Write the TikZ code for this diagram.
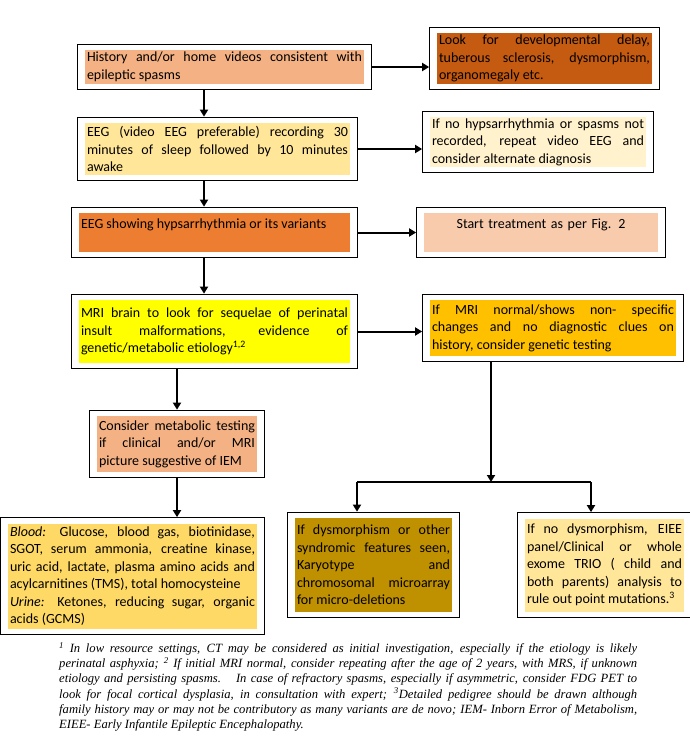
\documentclass[tikz,border=0pt]{standalone}
\usepackage{fontspec}
\setmainfont{Carlito}
\newfontfamily\notefont{Liberation Serif}
\usetikzlibrary{shapes,arrows,arrows.meta,fit}

\definecolor{peach}{HTML}{F4B183}
\definecolor{rust}{HTML}{C55A11}
\definecolor{sand}{HTML}{FFE699}
\definecolor{cream}{HTML}{FFF2CC}
\definecolor{tangerine}{HTML}{ED7D31}
\definecolor{blush}{HTML}{F8CBAD}
\definecolor{lemon}{HTML}{FFFF00}
\definecolor{amber}{HTML}{FFC000}
\definecolor{honey}{HTML}{FFD966}
\definecolor{ochre}{HTML}{BF9000}

\hyphenpenalty=10000
\exhyphenpenalty=10000
\tolerance=10000

\begin{document}
\begin{tikzpicture}[x=1pt, y=-1pt, node distance=90pt, >={Triangle[length=7pt,width=8pt]}]
			\tikzset{
				fillbox/.style={rectangle, inner xsep=2pt, inner ysep=0pt, align=justify, font=\fontsize{14}{17.5}\selectfont},
				frame/.style={rectangle, draw=black, line width=1.3pt, inner xsep=7pt, inner ysep=5.5pt},
				arrow/.style={line width=2pt, ->},
				notes/.style={anchor=north west, inner sep=0pt, text width=578pt, align=justify, font=\notefont\itshape\fontsize{12.6}{15.3}\selectfont},
			}
			\useasboundingbox (0,0) rectangle (690,748);
			\node[fillbox, fill=peach, text width=275pt, minimum height=34pt] (hist) at (224.5,67) {History and/or home videos consistent with\linebreak epileptic spasms};
			\node[fillbox, fill=rust, text width=211pt, minimum height=51pt, right of=hist, xshift=230pt, yshift=8.5pt] (look) {Look for developmental delay,\linebreak tuberous sclerosis, dysmorphism,\linebreak organomegaly etc.};
			\node[fillbox, fill=sand, text width=261pt, minimum height=52pt, below of=hist, xshift=-7pt, yshift=8pt] (eeg) {EEG (video EEG preferable) recording 30\linebreak minutes of sleep followed by 10 minutes\linebreak awake};
			\node[fillbox, fill=cream, text width=212pt, minimum height=50pt, right of=eeg, xshift=230.5pt, yshift=7pt] (nohyps) {If no hypsarrhythmia or spasms not\linebreak recorded, repeat video EEG and\linebreak consider alternate diagnosis};
			\node[fillbox, fill=tangerine, text width=267pt, minimum height=39pt, below of=eeg, xshift=-3pt, yshift=6.5pt] (hyps) {EEG showing hypsarrhythmia or its variants\\ \mbox{}};
			\node[fillbox, fill=blush, align=center, text width=230pt, minimum height=39pt, right of=hyps, xshift=236.5pt] (treat) {Start treatment as per Fig. 2\\ \mbox{}};
			\node[fillbox, fill=lemon, text width=267pt, minimum height=63pt, below of=hyps, yshift=-9pt] (mri) {MRI brain to look for sequelae of perinatal\linebreak insult malformations, evidence of\linebreak genetic/metabolic etiology\textsuperscript{1,2}};
			\node[fillbox, fill=amber, text width=242pt, minimum height=56pt, right of=mri, xshift=248.5pt, yshift=3.5pt] (normal) {If MRI normal/shows non- specific\linebreak changes and no diagnostic clues on\linebreak history, consider genetic testing};
			\node[fillbox, fill=peach, text width=156pt, minimum height=56pt, below of=mri, xshift=-37.5pt, yshift=-22.5pt] (metab) {Consider metabolic testing\linebreak if clinical and/or MRI\linebreak picture suggestive of IEM};
			\node[fillbox, fill=honey, text width=245pt, minimum height=105pt, below of=metab, xshift=-44.5pt, yshift=-42pt] (blood) {\textit{Blood:} Glucose, blood gas, biotinidase,\linebreak SGOT, serum ammonia, creatine kinase,\linebreak uric acid, lactate, plasma amino acids and\linebreak acylcarnitines (TMS), total homocysteine\\ \textit{Urine:} Ketones, reducing sugar, organic\linebreak acids (GCMS)};
			\node[fillbox, fill=ochre, text width=153pt, minimum height=94pt, right of=blood, xshift=151pt, yshift=11pt] (dysm) {If dysmorphism or other\linebreak syndromic features seen,\linebreak Karyotype and\linebreak chromosomal microarray\linebreak for micro-deletions};
			\node[fillbox, fill=sand, text width=155pt, minimum height=93pt, right of=dysm, xshift=141pt] (nodysm) {If no dysmorphism, EIEE\linebreak panel/Clinical or whole\linebreak exome TRIO ( child and\linebreak both parents) analysis to\linebreak rule out point mutations.\textsuperscript{3}};
			%frames
			\node[frame, fit=(hist)] (histf) {};
			\node[frame, fit=(look)] (lookf) {};
			\node[frame, fit=(eeg)] (eegf) {};
			\node[frame, fit=(nohyps)] (nohypsf) {};
			\node[frame, fit=(hyps)] (hypsf) {};
			\node[frame, fit=(treat)] (treatf) {};
			\node[frame, fit=(mri)] (mrif) {};
			\node[frame, fit=(normal)] (normalf) {};
			\node[frame, fit=(metab)] (metabf) {};
			\node[frame, fit=(blood)] (bloodf) {};
			\node[frame, fit=(dysm)] (dysmf) {};
			\node[frame, fit=(nodysm)] (nodysmf) {};
			\node[notes] (notes) at (59,642) {\textsuperscript{1} In low resource settings, CT may be considered as initial investigation, especially if the etiology is likely\linebreak perinatal asphyxia; \textsuperscript{2} If initial MRI normal, consider repeating after the age of 2 years, with MRS, if unknown\linebreak etiology and persisting spasms.\hspace{1.2em}In case of refractory spasms, especially if asymmetric, consider FDG PET to\linebreak look for focal cortical dysplasia, in consultation with expert; \textsuperscript{3}Detailed pedigree should be drawn although\linebreak family history may or may not be contributory as many variants are de novo; IEM- Inborn Error of Metabolism,\linebreak EIEE- Early Infantile Epileptic Encephalopathy.};
			%draw arrows
			\coordinate (spine) at (204,0);
			\coordinate (split) at (491,482);
			\coordinate (splitl) at (357,482);
			\coordinate (splitr) at (591,482);
			\draw[arrow] (histf.east) -- (histf.east -| lookf.west);
			\draw[arrow] (histf.south -| spine) -- (eegf.north -| spine);
			\draw[arrow] (eegf.east) -- (eegf.east -| nohypsf.west);
			\draw[arrow] (eegf.south -| spine) -- (hypsf.north -| spine);
			\draw[arrow] (hypsf.east) -- (hypsf.east -| treatf.west);
			\draw[arrow] (hypsf.south -| spine) -- (mrif.north -| spine);
			\draw[arrow] (mrif.east) -- (mrif.east -| normalf.west);
			\draw[arrow] (mrif.south -| metabf) -- (metabf.north);
			\draw[arrow] (metabf.south) -- (metabf.south |- bloodf.north);
			\draw[arrow] (normalf.south -| split) -- (split);
			\draw[line width=2pt] (splitl) -- (splitr);
			\draw[arrow] (splitl) -- (splitl |- dysmf.north);
			\draw[arrow] (splitr) -- (splitr |- nodysmf.north);
		\end{tikzpicture}
\end{document}
